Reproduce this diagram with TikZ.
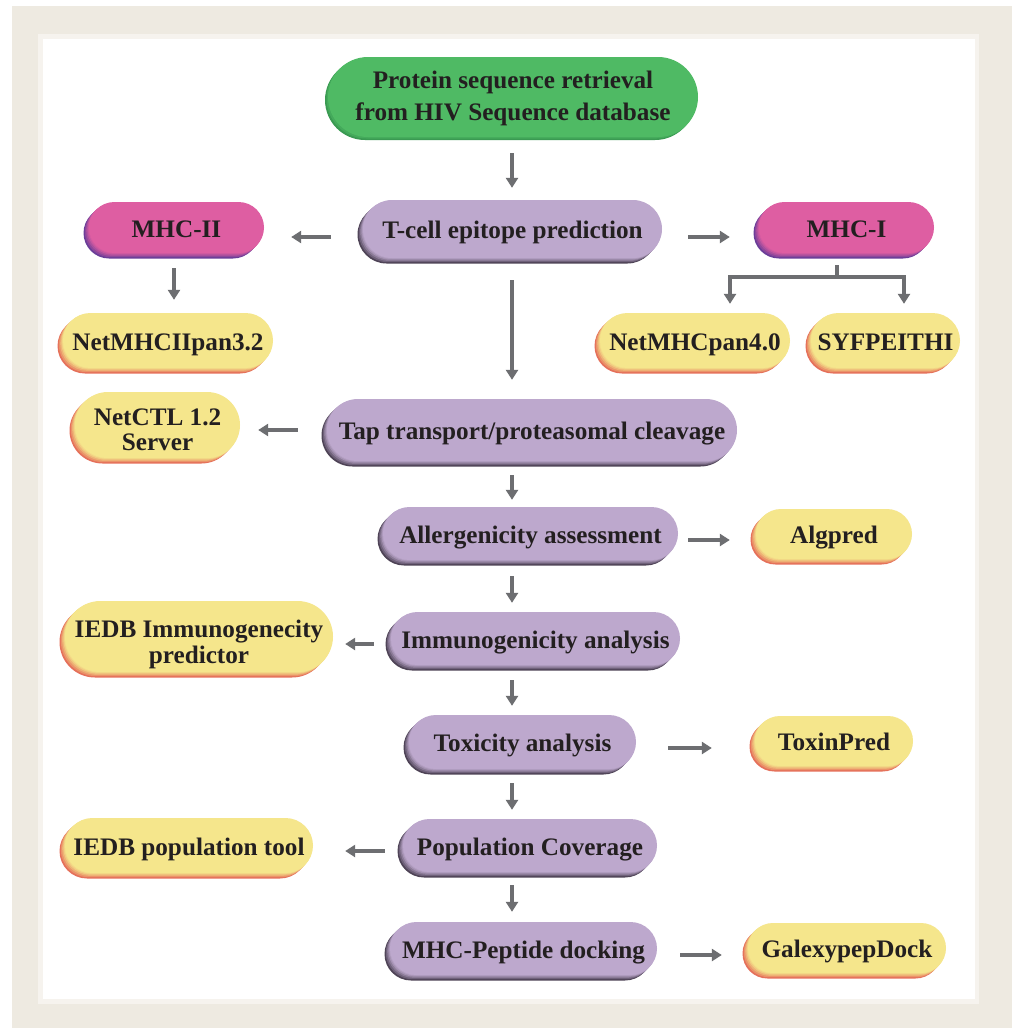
\documentclass[tikz,border=0pt]{standalone}
\usepackage{fontspec}
\setmainfont{Liberation Serif}
\usetikzlibrary{shadows,arrows.meta,calc}

\definecolor{beige}{HTML}{EEEAE1}
\definecolor{band}{HTML}{F6F3EE}
\definecolor{agray}{HTML}{6D6E71}
\definecolor{txt}{HTML}{231F20}
\definecolor{pmain}{HTML}{BDA8CD}
\definecolor{pedge}{HTML}{4E4356}
\definecolor{kmain}{HTML}{DE5EA2}
\definecolor{kedge}{HTML}{6A3D98}
\definecolor{ymain}{HTML}{F5E68C}
\definecolor{yedge}{HTML}{E5705A}
\definecolor{gmain}{HTML}{4FBA64}
\definecolor{gedge}{HTML}{3A9A52}

% two-line label: raise, line distance, line 1, line 2
\newcommand\twolines[4]{\raisebox{#1}[0pt][0pt]{\vtop{\baselineskip=#2\relax\halign{\hfil##\hfil\cr#3\cr#4\cr}}}}

\tikzset{
  box/.style 2 args={rectangle, inner sep=0pt, minimum width=#1, minimum height=#2,
    rounded corners=#2/2, text=txt, text height=26pt, text depth=7pt,
    font=\fontsize{25.2}{27}\selectfont\bfseries},
  sh/.style 2 args={
    general shadow={fill=#2, shadow xshift=-5.5pt, shadow yshift=-5.5pt},
    general shadow={fill=#2!70!#1, shadow xshift=-4.2pt, shadow yshift=-4.2pt},
    general shadow={fill=#2!45!#1, shadow xshift=-2.9pt, shadow yshift=-2.9pt},
    general shadow={fill=#2!22!#1, shadow xshift=-1.7pt, shadow yshift=-1.7pt},
    general shadow={fill=#2!8!#1, shadow xshift=-0.7pt, shadow yshift=-0.7pt},
    fill=#1},
  purp/.style={sh={pmain}{pedge}},
  pink/.style={sh={kmain}{kedge}},
  yell/.style={sh={ymain}{yedge}},
  grn/.style={
    general shadow={fill=gedge, shadow xshift=-3pt, shadow yshift=-3pt},
    general shadow={fill=gedge!50!gmain, shadow xshift=-1.5pt, shadow yshift=-1.5pt},
    fill=gmain},
  arr/.style={draw=agray, line width=3.2pt, -{Triangle[width=12pt,length=10pt]}},
  conn/.style={draw=agray, line width=3.2pt},
}

\begin{document}
\begin{tikzpicture}[x=1pt,y=-1pt]
\useasboundingbox (0,0) rectangle (1012,1028);
\fill[white] (0,0) rectangle (1012,1028);
\fill[beige] (12,6) rectangle (1012,1028);
\fill[band] (38,34) rectangle (979,1004);
\fill[white] (43,39) rectangle (975,999);

% nodes
\node[box={370pt}{80pt}, grn] (prot) at (513,97) {\twolines{18.5pt}{32pt}{Protein sequence retrieval}{from HIV Sequence database}};
\node[box={299pt}{58pt}, purp] (tcell) at (512.5,229) {T-cell epitope prediction};
\node[box={175pt}{51pt}, pink] (mhcII) at (176.5,227.5) {MHC-II};
\node[box={175pt}{51pt}, pink] (mhcI) at (846.5,227.5) {MHC-I};
\node[box={210pt}{55pt}, yell] (netII) at (168,340.5) {NetMHCIIpan3.2};
\node[box={190pt}{55pt}, yell] (netpan) at (695,340.5) {NetMHCpan4.0};
\node[box={149pt}{55pt}, yell] (syf) at (885.5,340.5) {SYFPEITHI};
\node[box={410pt}{62pt}, purp] (tap) at (532,430) {Tap transport/proteasomal cleavage};
\node[box={165pt}{66pt}, yell] (netctl) at (157.5,425) {\twolines{9.5pt}{25pt}{NetCTL 1.2}{Server}};
\node[box={295pt}{53pt}, purp] (allerg) at (530.5,533.5) {Allergenicity assessment};
\node[box={156pt}{50pt}, yell] (algpred) at (834,534) {Algpred};
\node[box={289pt}{53pt}, purp] (immuno) at (535.5,638.5) {Immunogenicity analysis};
\node[box={268pt}{71pt}, yell] (iedbimm) at (199,636.5) {\twolines{9pt}{26pt}{IEDB Immunogenecity}{predictor}};
\node[box={227pt}{54pt}, purp] (tox) at (522.5,742) {Toxicity analysis};
\node[box={158pt}{50pt}, yell] (toxin) at (834,741) {ToxinPred};
\node[box={254pt}{53pt}, purp] (pop) at (530,845.5) {Population Coverage};
\node[box={248pt}{55pt}, yell] (iedbpop) at (189,845.5) {IEDB population tool};
\node[box={267pt}{53pt}, purp] (dock) at (523.5,948.5) {MHC-Peptide docking};
\node[box={198pt}{50pt}, yell] (galexy) at (847,948) {GalexypepDock};

% helper coordinates
\coordinate (spine) at (512,0);
\coordinate (lspine) at (174,0);
\coordinate (branch) at (837,277);
\coordinate (bL) at (730,277);
\coordinate (bR) at (904,277);

% vertical spine arrows
\draw[arr, shorten <=16pt, shorten >=12pt] (prot.south -| spine) -- (tcell.north -| spine);
\draw[arr, shorten <=22pt, shorten >=19pt] (tcell.south -| spine) -- (tap.north -| spine);
\draw[arr, shorten <=14pt, shorten >=7pt] (tap.south -| spine) -- (allerg.north -| spine);
\draw[arr, shorten <=16pt, shorten >=9pt] (allerg.south -| spine) -- (immuno.north -| spine);
\draw[arr, shorten <=15pt, shorten >=9pt] (immuno.south -| spine) -- (tox.north -| spine);
\draw[arr, shorten <=14pt, shorten >=9pt] (tox.south -| spine) -- (pop.north -| spine);
\draw[arr, shorten <=13pt, shorten >=10pt] (pop.south -| spine) -- (dock.north -| spine);

% MHC-II branch
\draw[arr, shorten <=15pt, shorten >=13pt] (mhcII.south -| lspine) -- (netII.north -| lspine);

% MHC-I branch
\draw[conn, shorten <=12pt] (mhcI.south -| branch) -- (branch);
\draw[arr, shorten >=9pt] (bR) -- (bL) -- (bL |- netpan.north);
\draw[arr, shorten >=9pt] (bL) -- (bR) -- (bR |- syf.north);

% horizontal arrows
\draw[arr, shorten <=32pt, shorten >=27pt] ([yshift=-8pt]tcell.west) -- ([yshift=-8pt]tcell.west -| mhcII.east);
\draw[arr, shorten <=26pt, shorten >=29pt] ([yshift=-8pt]tcell.east) -- ([yshift=-8pt]tcell.east -| mhcI.west);
\draw[arr, shorten <=29pt, shorten >=18pt] (tap.west) -- (tap.west -| netctl.east);
\draw[arr, shorten <=10pt, shorten >=26pt] ([yshift=-6.5pt]allerg.east) -- ([yshift=-6.5pt]allerg.east -| algpred.west);
\draw[arr, shorten <=17pt, shorten >=12pt] ([yshift=-5.5pt]immuno.west) -- ([yshift=-5.5pt]immuno.west -| iedbimm.east);
\draw[arr, shorten <=32pt, shorten >=43pt] ([yshift=-6pt]tox.east) -- ([yshift=-6pt]tox.east -| toxin.west);
\draw[arr, shorten <=18pt, shorten >=32pt] ([yshift=-5.5pt]pop.west) -- ([yshift=-5.5pt]pop.west -| iedbpop.east);
\draw[arr, shorten <=23pt, shorten >=26pt] ([yshift=-6.5pt]dock.east) -- ([yshift=-6.5pt]dock.east -| galexy.west);
\end{tikzpicture}
\end{document}
